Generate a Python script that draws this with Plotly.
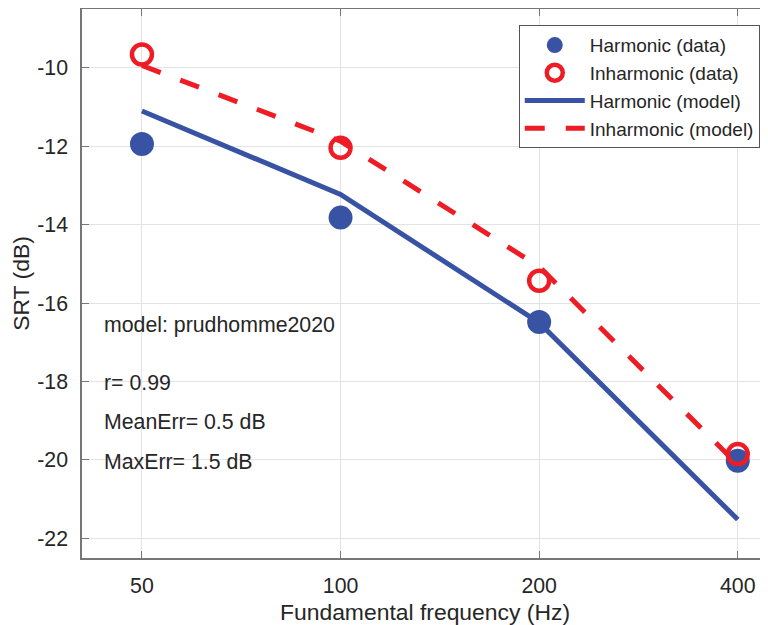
import plotly.graph_objects as go

# ---- data ----
freqs = [50, 100, 200, 400]
x_tick_labels = ["50", "100", "200", "400"]
harm_data = [-11.94, -13.82, -16.48, -20.02]
inharm_data = [-9.66, -12.04, -15.43, -19.85]
harm_model = [-11.10, -13.23, -16.50, -21.52]
inharm_model = [-9.94, -11.87, -15.07, -20.12]
y_ticks = [-22, -20, -18, -16, -14, -12, -10]
y_tick_labels = ["-22", "-20", "-18", "-16", "-14", "-12", "-10"]
info_texts = ["model: prudhomme2020", "r= 0.99", "MeanErr= 0.5 dB", "MaxErr= 1.5 dB"]
info_ypos = [0.4243, 0.3180, 0.2469, 0.1751]

BLUE = "#3953A4"
RED = "#EE1C25"
AX = "#262626"
FONT = "Liberation Sans, Arial, Helvetica, sans-serif"

fig = go.Figure()

fig.add_trace(go.Scatter(
    x=freqs, y=harm_model, mode="lines", name="Harmonic (model)",
    line=dict(color=BLUE, width=5), legendrank=3))
fig.add_trace(go.Scatter(
    x=freqs, y=inharm_model, mode="lines", name="Inharmonic (model)",
    line=dict(color=RED, width=5, dash="20px,21px"), legendrank=4))
fig.add_trace(go.Scatter(
    x=freqs, y=harm_data, mode="markers", name="Harmonic (data)",
    marker=dict(color=BLUE, size=24, line=dict(width=0)), legendrank=1))
fig.add_trace(go.Scatter(
    x=freqs, y=inharm_data, mode="markers", name="Inharmonic (data)",
    marker=dict(symbol="circle-open", color=RED, size=20, line=dict(width=4.5, color=RED)),
    legendrank=2))

for t, yp in zip(info_texts, info_ypos):
    fig.add_annotation(text=t, xref="paper", yref="paper", x=0.0287, y=yp,
                       xanchor="left", yanchor="middle", showarrow=False,
                       font=dict(family=FONT, size=21.3, color=AX))

# page body has an 8px default margin; compensate so the plot sits where the reference does
fig.update_layout(
    width=760, height=617,
    margin=dict(l=74, r=0, t=1, b=67, autoexpand=False),
    paper_bgcolor="white", plot_bgcolor="white",
    font=dict(family=FONT, color=AX),
    showlegend=True,
    legend=dict(
        x=0.988, y=0.9705, xanchor="right", yanchor="top",
        bgcolor="white", bordercolor="#555555", borderwidth=1,
        font=dict(family=FONT, size=19, color=AX),
        itemwidth=60, tracegroupgap=0,
    ),
    xaxis=dict(
        type="log", range=[1.6081, 2.6479],
        tickvals=freqs, ticktext=x_tick_labels,
        showgrid=True, gridcolor="#E3E3E3", gridwidth=1,
        showline=True, linecolor="#767676", linewidth=1.5, mirror="ticks",
        ticks="inside", ticklen=7, tickcolor="#767676", tickwidth=1,
        tickfont=dict(family=FONT, size=21.3, color=AX),
        ticklabelstandoff=8,
        zeroline=False, automargin=False,
        title=dict(text="Fundamental frequency (Hz)",
                   font=dict(family=FONT, size=22.9, color=AX), standoff=15),
    ),
    yaxis=dict(
        range=[-22.5, -8.5],
        tickvals=y_ticks, ticktext=y_tick_labels,
        showgrid=True, gridcolor="#E3E3E3", gridwidth=1,
        showline=True, linecolor="#767676", linewidth=1.5, mirror=False,
        ticks="inside", ticklen=7, tickcolor="#767676", tickwidth=1,
        tickfont=dict(family=FONT, size=21.3, color=AX),
        ticklabelstandoff=8,
        zeroline=False, automargin=False,
        title=dict(text="SRT (dB)",
                   font=dict(family=FONT, size=22.9, color=AX), standoff=6),
    ),
)

fig.write_html("out.html")
